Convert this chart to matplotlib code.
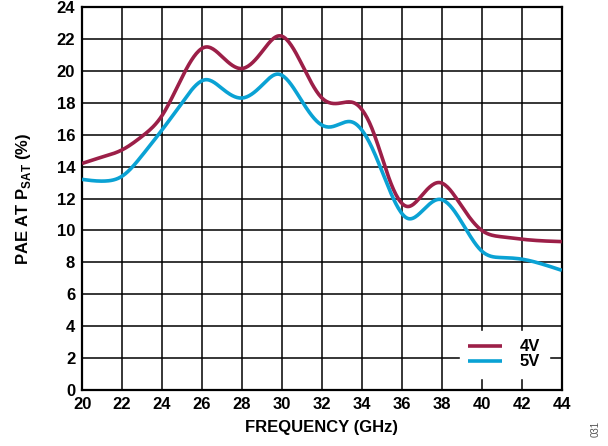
import numpy as np
import matplotlib
matplotlib.use('Agg')
import matplotlib.pyplot as plt

plt.rcParams['font.family'] = ['Liberation Sans', 'DejaVu Sans']
plt.rcParams['font.weight'] = 'bold'
plt.rcParams['mathtext.fontset'] = 'custom'
plt.rcParams['mathtext.rm'] = 'Liberation Sans:bold'
plt.rcParams['mathtext.bf'] = 'Liberation Sans:bold'

# values (GHz, %)
freq_4v = [20, 21, 22, 23, 24, 25, 26.2, 27, 28, 29, 29.9, 31, 32, 33, 33.6, 34.5, 35.5, 36.3, 37, 37.9, 39, 40, 41, 42, 43, 44]
pae_4v = [14.2, 14.6, 15.05, 15.9, 17.2, 19.6, 21.5, 20.9, 20.15, 21.2, 22.2, 20.4, 18.3, 18.0, 18.0, 16.4, 12.8, 11.5, 12.2, 13.0, 11.5, 10.0, 9.6, 9.45, 9.35, 9.3]

freq_5v = [20, 21.2, 22, 23, 24, 25, 26.2, 27, 28, 29, 29.8, 31, 32, 32.5, 33.5, 34.5, 35.5, 36.3, 37, 37.9, 39, 40, 41, 42, 43, 44]
pae_5v = [13.2, 13.1, 13.4, 14.7, 16.3, 18.0, 19.45, 18.9, 18.3, 19.1, 19.8, 18.1, 16.6, 16.5, 16.8, 15.2, 12.2, 10.75, 11.2, 11.95, 10.5, 8.7, 8.3, 8.2, 7.9, 7.5]

series = [('4V', freq_4v, pae_4v, '#9c1f48'), ('5V', freq_5v, pae_5v, '#0aa2d4')]

x_ticks = np.arange(20, 45, 2)
y_ticks = np.arange(0, 25, 2)


def smooth(x, y, n=400):
    # natural cubic spline through the read points, only for drawing
    x = np.asarray(x, float)
    y = np.asarray(y, float)
    k = len(x)
    h = np.diff(x)
    A = np.zeros((k, k))
    b = np.zeros(k)
    A[0, 0] = A[-1, -1] = 1
    for i in range(1, k - 1):
        A[i, i - 1] = h[i - 1]
        A[i, i] = 2 * (h[i - 1] + h[i])
        A[i, i + 1] = h[i]
        b[i] = 6 * ((y[i + 1] - y[i]) / h[i] - (y[i] - y[i - 1]) / h[i - 1])
    M = np.linalg.solve(A, b)
    xs = np.linspace(x[0], x[-1], n)
    idx = np.clip(np.searchsorted(x, xs) - 1, 0, k - 2)
    x0, x1 = x[idx], x[idx + 1]
    hh = x1 - x0
    a = (x1 - xs) / hh
    c = (xs - x0) / hh
    ys = (a * y[idx] + c * y[idx + 1]
          + ((a ** 3 - a) * M[idx] + (c ** 3 - c) * M[idx + 1]) * hh ** 2 / 6)
    return xs, ys


fig = plt.figure(figsize=(6.08, 4.46), dpi=100)
ax = fig.add_axes([0.135, 0.1256, 0.789, 0.8585])

for label, fx, fy, col in series:
    sx, sy = smooth(fx, fy)
    ax.plot(sx, sy, color=col, lw=2.6, label=label, solid_capstyle='butt', zorder=3)

ax.set_xlim(20, 44)
ax.set_ylim(0, 24)
ax.set_xticks(x_ticks)
ax.set_yticks(y_ticks)
ax.grid(True, color='black', lw=1.1)
ax.tick_params(length=0, labelsize=12, pad=5)
for s in ax.spines.values():
    s.set_linewidth(1.6)
    s.set_color('black')

ax.set_xlabel('FREQUENCY (GHz)', fontsize=12, fontweight='bold', labelpad=6)
ax.set_ylabel(r'PAE AT P$_{\mathbf{SAT}}$ (%)', fontsize=12, fontweight='bold', labelpad=17)

leg = ax.legend(loc='lower right', bbox_to_anchor=(0.99, 0.01), frameon=True, fontsize=12,
                handlelength=2.0, handletextpad=1.1, borderpad=0.5, labelspacing=0.0)
leg.get_frame().set_facecolor('white')
leg.get_frame().set_edgecolor('white')
leg.get_frame().set_alpha(1)
leg.get_frame().set_boxstyle('square', pad=0)
for t in leg.get_texts():
    t.set_fontweight('bold')

fig.text(0.98, 0.02, '031', rotation=90, fontsize=7, color='#555555', fontweight='normal',
         ha='center', va='bottom')

fig.savefig('out.png', dpi=100)
